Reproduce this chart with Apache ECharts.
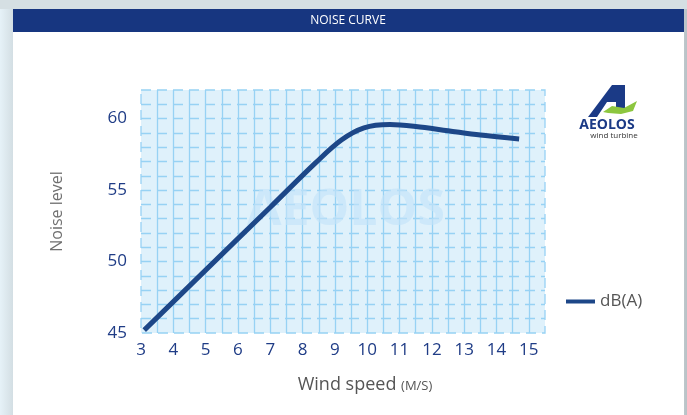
<!DOCTYPE html>
<html><head><meta charset="utf-8">
<script src="https://cdn.jsdelivr.net/npm/echarts@6/dist/echarts.min.js"></script>
<style>html,body{margin:0;padding:0;background:#fff;}#c{width:687px;height:415px;}</style>
</head><body><div id="c"></div>
<script>
var windSpeed = [3.1, 5, 7, 8.4, 9.2, 9.9, 10.7, 11.5, 12.5, 13.5, 14.7];
var noiseLevel = [45.2, 49.4, 53.8, 56.9, 58.5, 59.35, 59.58, 59.45, 59.15, 58.85, 58.58];
var yTickLabels = [45, 50, 55, 60];
var seriesName = 'dB(A)';

var chart = echarts.init(document.getElementById('c'));
var pts = windSpeed.map(function(x, i){ return [x, noiseLevel[i]]; });
var font = '"Open Sans", "Noto Sans", sans-serif';
chart.setOption({
  animation: false,
  backgroundColor: '#ffffff',
  graphic: [
    {type:'rect', shape:{x:0,y:0,width:687,height:415}, style:{fill:new echarts.graphic.LinearGradient(0,0,1,0,[{offset:0,color:'#e6f2f8'},{offset:0.02,color:'#d2dde2'},{offset:0.98,color:'#d2dde2'},{offset:1,color:'#b8c2c6'}])}, z:-10},
    {type:'rect', shape:{x:0,y:0,width:687,height:9}, style:{fill:'#d5dfe3'}, z:-9},
    {type:'rect', shape:{x:13,y:9,width:671,height:406}, style:{fill:'#ffffff'}, z:-8},
    {type:'rect', shape:{x:13,y:9,width:671,height:23}, style:{fill:'#173680'}, z:-7},
    {type:'text', x:348, y:21, style:{text:'NOISE CURVE', fill:'#ffffff', font:'12px ' + font, textAlign:'center', textVerticalAlign:'middle'}, z:10},
    {type:'text', x:346, y:211, style:{text:'AEOLOS', fill:'rgba(195,228,249,0.65)', font:'bold 50px ' + font, textAlign:'center', textVerticalAlign:'middle'}, z:5},
    {type:'polygon', shape:{points:[[588,117],[612,85],[625,85],[625,108],[616,110],[616,102],[607,102],[597,117]]}, style:{fill:'#1b3a86'}, z:10},
    {type:'polygon', shape:{points:[[603,112],[612,106],[624,108],[637,101],[633,111],[621,114],[608,113]]}, style:{fill:'#8cc63f'}, z:11},
    {type:'text', x:607, y:125, style:{text:'AEOLOS', fill:'#1b3a86', font:'bold 14px ' + font, textAlign:'center', textVerticalAlign:'middle'}, z:10},
    {type:'text', x:614, y:136, style:{text:'wind turbine', fill:'#333333', font:'8px ' + font, textAlign:'center', textVerticalAlign:'middle'}, z:10}
  ],
  legend: {
    data: [seriesName], left: 561, top: 288, icon: 'rect', itemWidth: 29, itemHeight: 4, itemGap: 10,
    textStyle: {fontSize: 17, color: '#555555', fontFamily: font}
  },
  grid: {left: 141, top: 90, right: 142, bottom: 82, show: true, backgroundColor: '#dff1fb',
         borderColor: '#97d2f4', borderWidth: 1.3, borderType: [10, 6]},
  xAxis: {
    type: 'value', min: 3, max: 15.5, interval: 0.5,
    axisLine: {show: false}, axisTick: {show: false},
    axisLabel: {margin: 9, fontSize: 17, color: '#1f3c86', fontFamily: font, showMaxLabel: false,
      formatter: function(v){ return Number.isInteger(v) ? String(v) : ''; }},
    splitLine: {show: true, showMinLine: false, showMaxLine: false, lineStyle: {color: '#97d2f4', width: 1.3, type: 'solid'}},
    name: 'Wind speed {u|(M/S)}', nameLocation: 'middle', nameGap: 43,
    nameTextStyle: {fontSize: 18, color: '#555555', fontFamily: font, padding: [0, 0, 0, 44],
      rich: {u: {fontSize: 13, color: '#555555', fontFamily: font, padding: [2, 0, 0, 0]}}}
  },
  yAxis: {
    type: 'value', min: 45, max: 62, interval: 1,
    axisLine: {show: false}, axisTick: {show: false},
    axisLabel: {margin: 14, fontSize: 17, color: '#1f3c86', fontFamily: font, showMaxLabel: false,
      formatter: function(v){ return yTickLabels.indexOf(v) >= 0 ? String(v) : ''; }},
    splitLine: {show: true, showMinLine: false, showMaxLine: false, lineStyle: {color: '#97d2f4', width: 1.3, type: [10, 6]}},
    name: 'Noise level', nameLocation: 'middle', nameGap: 76,
    nameTextStyle: {fontSize: 16, color: '#707070', fontFamily: font}
  },
  series: [{
    name: seriesName, type: 'line', data: pts, smooth: 0.35, showSymbol: false,
    lineStyle: {color: '#1d4788', width: 5, cap: 'butt'}, itemStyle: {color: '#1d4788'}, z: 6
  }]
});
</script></body></html>
